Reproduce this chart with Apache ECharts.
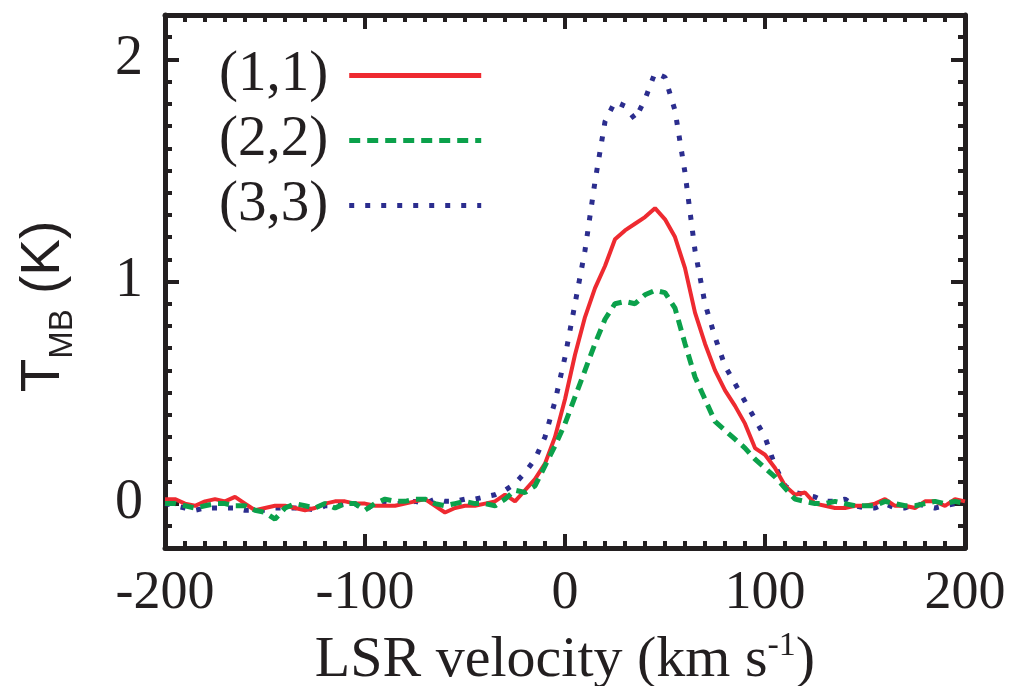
<!DOCTYPE html>
<html>
<head>
<meta charset="utf-8">
<script src="https://cdn.jsdelivr.net/npm/echarts@6/dist/echarts.min.js"></script>
<style>
  html, body { margin: 0; padding: 0; background: #fff; }
  #ec { width: 1013px; height: 686px; }
</style>
</head>
<body>
<div id="ec"></div>
<script>
// LSR velocity grid (km/s)
var velocity = [-200, -195, -190, -185, -180, -175, -170, -165, -160, -155, -150, -145, -140, -135, -130, -125, -120, -115, -110, -105,
  -100, -95, -90, -85, -80, -75, -70, -65, -60, -55, -50, -45, -40, -35, -30, -25, -20, -15, -10, -5,
  0, 5, 10, 15, 20, 25, 30, 35, 40, 45, 50, 55, 60, 65, 70, 75, 80, 85, 90, 95,
  100, 105, 110, 115, 120, 125, 130, 135, 140, 145, 150, 155, 160, 165, 170, 175, 180, 185, 190, 195, 200]

// T_MB (K) for each line
var nh3_11 = [0.02, 0.02, 0.0, -0.01, 0.01, 0.02, 0.01, 0.03, 0.0, -0.03, -0.02, -0.01, -0.01, -0.02, -0.03, -0.02, 0.0, 0.01, 0.01, 0.0,
  0.0, -0.01, -0.01, -0.01, 0.0, 0.01, 0.02, -0.01, -0.04, -0.02, -0.01, -0.01, 0.0, 0.01, 0.04, 0.01, 0.06, 0.11, 0.18, 0.3,
  0.47, 0.67, 0.84, 0.97, 1.07, 1.19, 1.23, 1.26, 1.29, 1.33, 1.28, 1.2, 1.06, 0.86, 0.72, 0.6, 0.51, 0.44, 0.36, 0.25,
  0.22, 0.16, 0.08, 0.04, 0.05, 0.0, -0.01, -0.02, -0.02, -0.01, -0.01, 0.0, 0.02, -0.01, -0.01, -0.02, 0.01, 0.01, -0.01, 0.02, 0.01]

var nh3_22 = [0.0, 0.0, -0.01, -0.02, -0.01, 0.0, 0.0, -0.01, -0.01, -0.03, -0.04, -0.07, -0.02, 0.0, -0.01, -0.02, 0.0, -0.02, 0.0, 0.0,
  -0.03, 0.0, 0.02, 0.01, 0.01, 0.02, 0.02, 0.0, -0.01, 0.0, 0.01, 0.0, 0.0, -0.01, 0.02, 0.06, 0.05, 0.08, 0.17, 0.26,
  0.36, 0.48, 0.6, 0.72, 0.83, 0.9, 0.91, 0.9, 0.94, 0.96, 0.95, 0.88, 0.72, 0.57, 0.47, 0.37, 0.33, 0.29, 0.25, 0.2,
  0.16, 0.12, 0.07, 0.02, 0.01, 0.0, 0.0, 0.01, 0.0, -0.01, -0.01, -0.01, 0.01, 0.0, -0.01, -0.01, 0.0, 0.01, 0.0, 0.01, 0.0]

var nh3_33 = [0.0, -0.01, -0.02, -0.03, -0.02, -0.02, -0.02, -0.02, -0.03, -0.03, -0.03, -0.02, -0.02, -0.02, -0.02, -0.03, -0.01, -0.01, 0.0, 0.0,
  -0.03, 0.0, 0.01, 0.0, 0.0, 0.01, 0.0, 0.02, 0.01, 0.01, 0.02, 0.02, 0.03, 0.04, 0.06, 0.09, 0.14, 0.2, 0.3, 0.46,
  0.66, 0.9, 1.14, 1.45, 1.72, 1.81, 1.79, 1.73, 1.82, 1.94, 1.92, 1.77, 1.49, 1.14, 0.9, 0.75, 0.62, 0.54, 0.46, 0.38,
  0.3, 0.17, 0.08, 0.05, 0.04, 0.03, 0.01, 0.01, 0.02, -0.01, -0.02, -0.02, 0.0, -0.02, -0.02, 0.0, -0.01, -0.02, -0.01, 0.0, 0.01]

var lineNames = ['(1,1)', '(2,2)', '(3,3)']
var xTicks = [-200, 200, 100]   // min, max, interval
var yRange = [-0.2, 2.2]

function pairs(ys) {
  return velocity.map(function (v, i) { return [v, ys[i]] })
}

var ink = '#231f20'
var serif = 'Liberation Serif'

function frameX(pos, labels) {
  return {
    type: 'value', position: pos, min: xTicks[0], max: xTicks[1], interval: xTicks[2],
    axisLine: { show: true, onZero: false, lineStyle: { color: ink, width: 5 } },
    axisTick: { show: true, inside: true, length: 14, lineStyle: { color: ink, width: 4 } },
    minorTick: { show: true, splitNumber: 10, length: 7, lineStyle: { color: ink, width: 4 } },
    splitLine: { show: false },
    axisLabel: { show: labels, margin: 19, color: ink, fontFamily: serif, fontSize: 54 }
  }
}

function frameY(pos, labels) {
  return {
    type: 'value', position: pos, min: yRange[0], max: yRange[1], splitNumber: 2,
    axisLine: { show: true, onZero: false, lineStyle: { color: ink, width: 5 } },
    axisTick: { show: true, inside: true, length: 14, lineStyle: { color: ink, width: 4 } },
    minorTick: { show: true, splitNumber: 10, length: 7, lineStyle: { color: ink, width: 4 } },
    splitLine: { show: false },
    axisLabel: { show: labels, margin: 22, color: ink, fontFamily: serif, fontSize: 56,
      showMinLabel: false, showMaxLabel: false }
  }
}

var xBottom = frameX('bottom', true)
xBottom.name = '{t|LSR velocity (km s}{sup|-1}{t|)}'
xBottom.nameLocation = 'middle'
xBottom.nameMoveOverlap = false
xBottom.nameGap = 81
xBottom.nameTextStyle = {
  color: ink, fontFamily: serif,
  rich: {
    t: { fontFamily: serif, fontSize: 58, color: ink },
    sup: { fontFamily: serif, fontSize: 34, color: ink, padding: [0, 0, 30, 0] }
  }
}

var yLeft = frameY('left', true)
yLeft.name = '{t|T}{s|MB}{t| (K)}'
yLeft.nameLocation = 'middle'
yLeft.nameMoveOverlap = false
yLeft.nameGap = 86
yLeft.nameTextStyle = {
  color: ink,
  padding: [0, 50, 0, 0],
  rich: {
    t: { fontFamily: 'Liberation Sans', fontSize: 55, color: ink },
    s: { fontFamily: 'Liberation Sans', fontSize: 33, color: ink, padding: [38, 0, 0, 0] }
  }
}

var myEchart = echarts.init(document.getElementById('ec'))
myEchart.setOption({
  animation: false,
  backgroundColor: '#fff',
  grid: { left: 165, right: 48, top: 15, bottom: 138, containLabel: false, outerBoundsMode: 'none' },
  legend: {
    data: lineNames,
    orient: 'vertical',
    left: 214,
    top: 42,
    align: 'right',
    itemWidth: 132,
    itemHeight: 20,
    itemGap: 8,
    itemStyle: { opacity: 0, borderWidth: 0 },
    lineStyle: { width: 5 },
    textStyle: { color: ink, fontFamily: serif, fontSize: 57, padding: [0, 16, 0, 0] }
  },
  xAxis: [xBottom, frameX('top', false)],
  yAxis: [yLeft, frameY('right', false)],
  series: [
    {
      name: lineNames[0], type: 'line', symbol: 'none', data: pairs(nh3_11),
      lineStyle: { color: '#ee2a30', width: 4 }, itemStyle: { color: '#ee2a30' }
    },
    {
      name: lineNames[1], type: 'line', symbol: 'none', data: pairs(nh3_22),
      lineStyle: { color: '#0ba14b', width: 5, type: [11, 7] }, itemStyle: { color: '#0ba14b' }
    },
    {
      name: lineNames[2], type: 'line', symbol: 'none', data: pairs(nh3_33), z: 1,
      lineStyle: { color: '#2b2d8e', width: 5, type: [5, 11] }, itemStyle: { color: '#2b2d8e' }
    }
  ]
})
</script>
</body>
</html>
